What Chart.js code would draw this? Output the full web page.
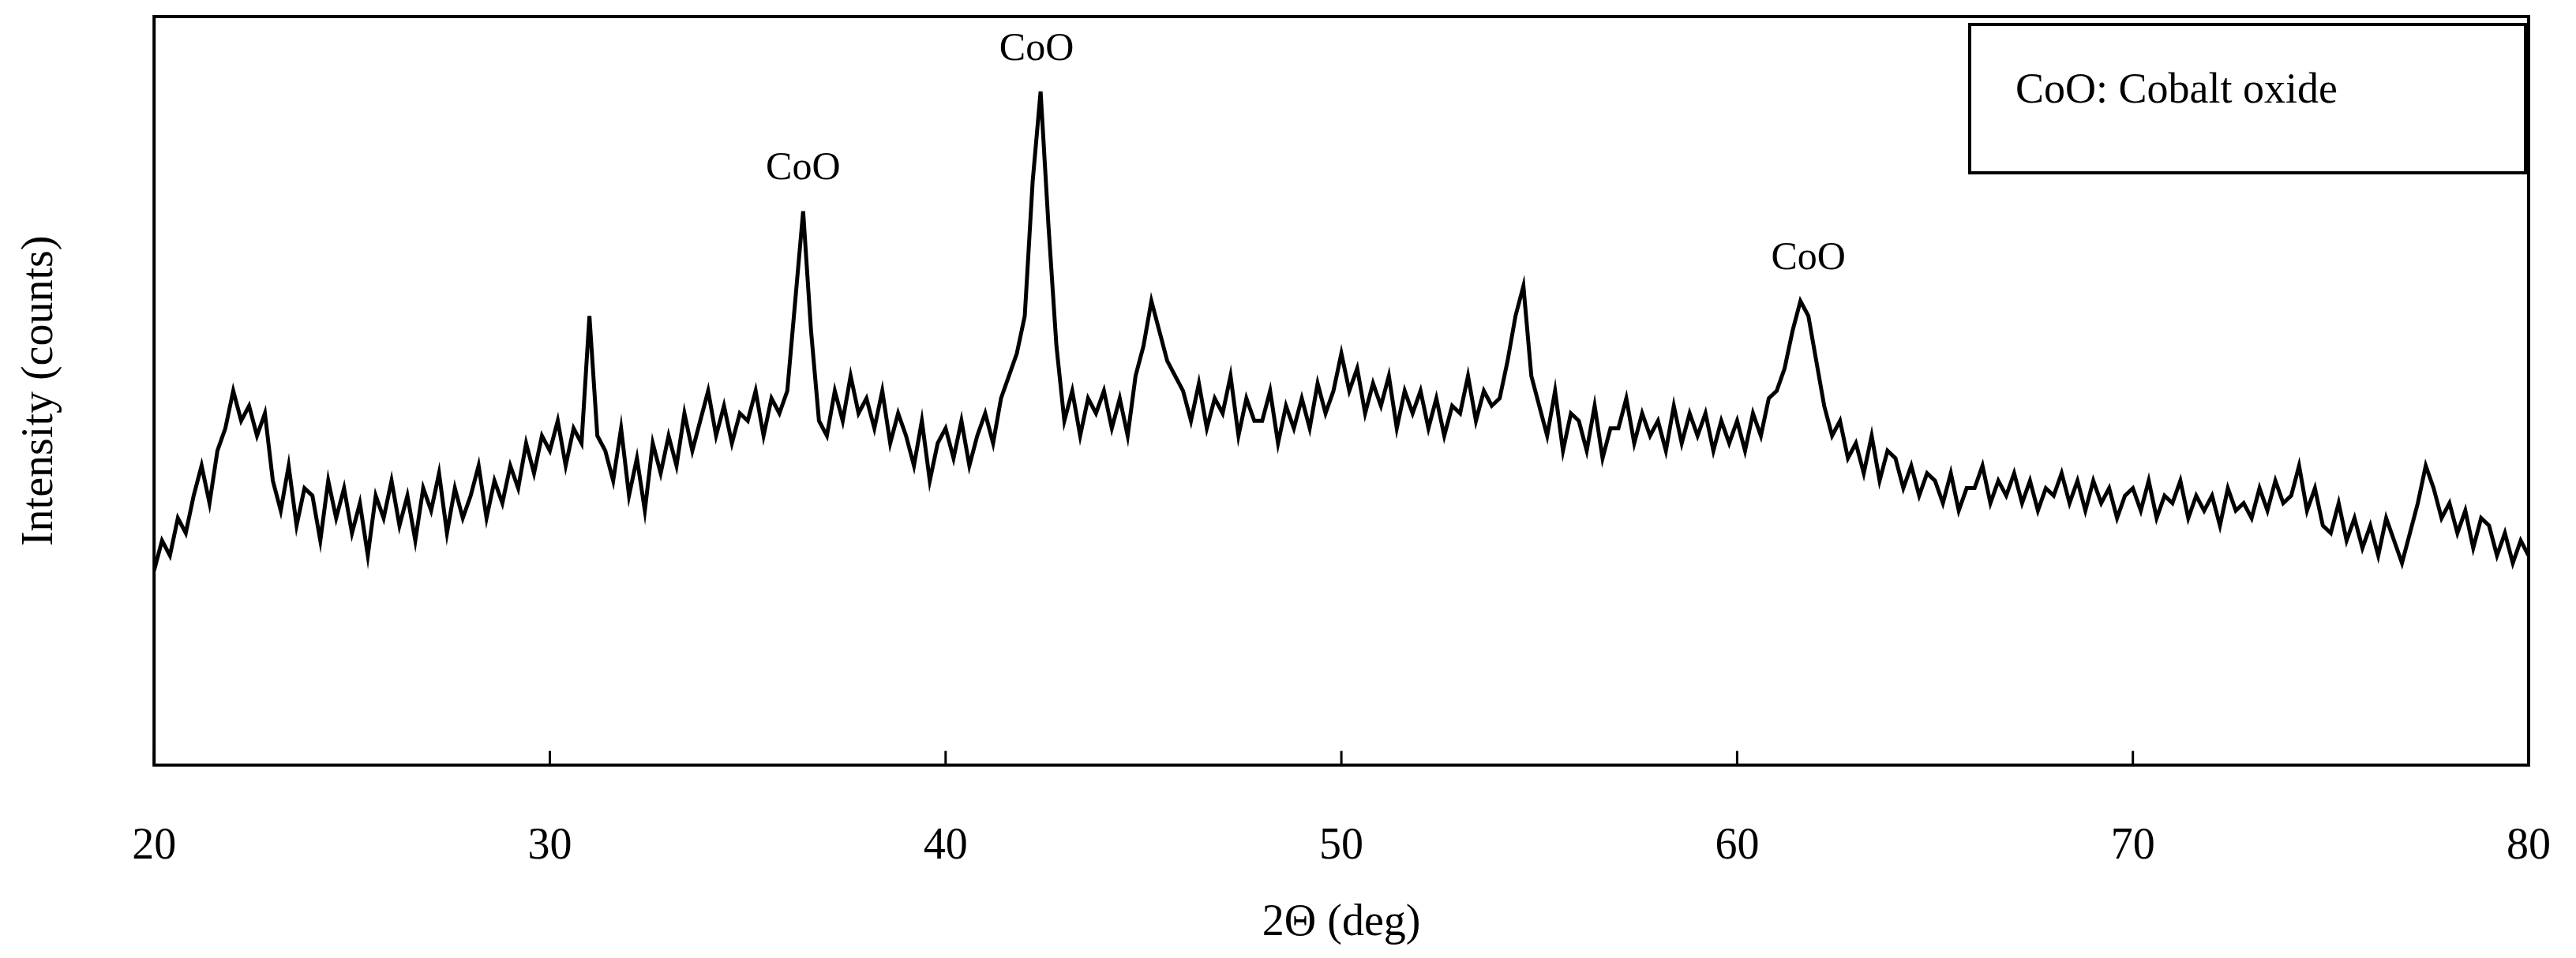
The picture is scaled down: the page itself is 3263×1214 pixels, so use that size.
<!DOCTYPE html>
<html><head><meta charset="utf-8">
<script src="https://cdn.jsdelivr.net/npm/chart.js@4"></script>
<style>html,body{margin:0;padding:0;background:#fff}#w{width:3263px;height:1214px}</style>
</head><body><div id="w"><canvas id="c"></canvas></div>
<script>
const xStart = 20, xStep = 0.2;
const intensity = [
26,30,28,33,31, 36,40,35,42,45, 50,46,48,44,47, 38,34,40,32,37,
36,30,38,33,37, 31,35,28,36,33, 38,32,36,30,37, 34,39,31,37,33,
36,40,33,38,35, 40,37,43,39,44, 42,46,40,45,43, 60,44,42,38,45,
36,41,34,43,39, 44,40,47,42,46, 50,44,48,43,47, 46,50,44,49,47,
50,62,74,58,46, 44,50,46,52,47, 49,45,50,43,47, 44,40,46,38,43,
45,41,46,40,44, 47,43,49,52,55, 60,78,90,72,56, 46,50,44,49,47,
50,45,49,44,52, 56,62,58,54,52, 50,46,51,45,49, 47,52,44,49,46,
46,50,43,48,45, 49,45,51,47,50, 55,50,53,47,51, 48,52,45,50,47,
50,45,49,44,48, 47,52,46,50,48, 49,54,60,64,52, 48,44,50,42,47,
46,42,48,41,45, 45,49,43,47,44, 46,42,48,43,47, 44,47,42,46,43,
46,42,47,44,49, 50,53,58,62,60, 54,48,44,46,41, 43,39,44,38,42,
41,37,40,36,39, 38,35,39,34,37, 37,40,35,38,36, 39,35,38,34,37,
36,39,35,38,34, 38,35,37,33,36, 37,34,38,33,36, 35,38,33,36,34,
36,32,37,34,35, 33,37,34,38,35, 36,40,34,37,32, 31,35,30,33,29,
32,28,33,30,27, 31,35,40,37,33, 35,31,34,29,33, 32,28,31,27,30, 28
];
const xTicks = [20,30,40,50,60,70,80];
const peakLabels = ["CoO","CoO","CoO"];
const peakX = [36.4, 42.3, 61.8];
const peakY = [77, 93, 65];
const legendText = "CoO: Cobalt oxide";

const pts = intensity.map((v,i)=>({x: +(xStart + i*xStep).toFixed(2), y: v}));
const F = "'Liberation Serif', 'Times New Roman', serif";

const deco = {
  id:'deco',
  afterDraw(ch){
    const c=ch.ctx, a=ch.chartArea, xs=ch.scales.x, ys=ch.scales.y;
    c.save();
    c.strokeStyle='#000'; c.lineWidth=4;
    c.strokeRect(a.left,a.top,a.right-a.left,a.bottom-a.top);
    c.lineWidth=3;
    xTicks.forEach(t=>{const p=xs.getPixelForValue(t);c.beginPath();c.moveTo(p,a.bottom);c.lineTo(p,a.bottom-18);c.stroke();});
    c.fillStyle='#000'; c.font='50px '+F; c.textAlign='center'; c.textBaseline='bottom';
    peakLabels.forEach((s,i)=>c.fillText(s, xs.getPixelForValue(peakX[i]), ys.getPixelForValue(peakY[i])));
    c.lineWidth=4;
    const lx=2495, ly=31, lw=a.right-2495-4, lh=188;
    c.strokeRect(lx,ly,lw,lh);
    c.font='54px '+F; c.textAlign='left'; c.textBaseline='middle';
    c.fillText(legendText, lx+58, ly+85);
    c.restore();
  }
};

new Chart(document.getElementById('c'),{
  type:'line',
  data:{datasets:[{data:pts,borderColor:'#000',borderWidth:5,pointRadius:0,tension:0}]},
  options:{
    responsive:true,maintainAspectRatio:false,animation:false,
    layout:{padding:{left:14,right:60,top:21,bottom:10}},
    plugins:{legend:{display:false},tooltip:{enabled:false}},
    scales:{
      x:{type:'linear',min:20,max:80,
        afterBuildTicks(s){s.ticks=xTicks.map(v=>({value:v}));},
        afterFit(s){s.paddingLeft=0;s.paddingRight=0;},
        grid:{display:false,drawTicks:false},border:{display:false},
        ticks:{padding:70,color:'#000',font:{family:F,size:56}},
        title:{display:true,text:'2Θ (deg)',color:'#000',font:{family:F,size:56},padding:{top:-40,bottom:0}}},
      y:{min:0,max:100,
        grid:{display:false,drawTicks:false},border:{display:false},
        ticks:{display:false},
        title:{display:true,text:'Intensity (counts)',color:'#000',font:{family:F,size:56},padding:{bottom:110}}}
    }
  },
  plugins:[deco]
});
</script></body></html>
